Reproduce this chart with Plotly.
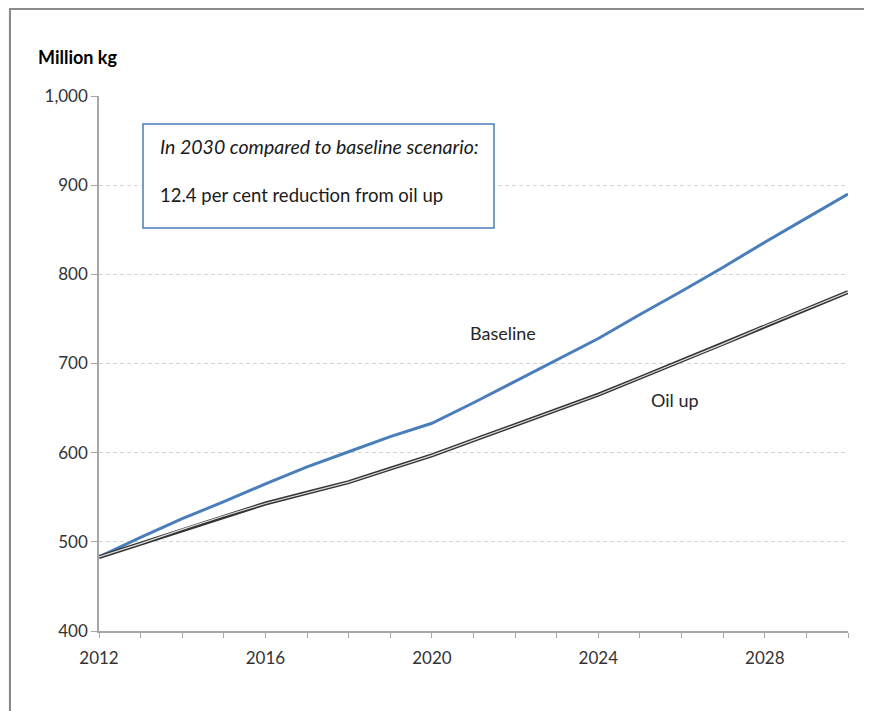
import plotly.graph_objects as go

years = list(range(2012, 2031))
baseline = [483, 505, 526, 545, 565, 584, 601, 618, 633, 656, 680, 704, 728,
            755, 781, 808, 836, 863, 890]
oil_up = [483, 498, 514, 529, 543, 555, 567, 582, 597, 614, 631, 648, 665,
          684, 703, 722, 742, 761, 780]

y_ticks = [400, 500, 600, 700, 800, 900, 1000]
y_tick_labels = ["400", "500", "600", "700", "800", "900", "1,000"]
x_ticks = [2012, 2016, 2020, 2024, 2028]

FONT = "Lato"
OFF = 8  # page body offset
W, H = 864, 703
L, T = 99 - OFF, 96 - OFF
R = W - (848 - OFF)
B = H - (631 - OFF)
PW, PH = W - L - R, H - T - B


def px(x):
    return (x - OFF - L) / PW


def py(y):
    return (H - B - (y - OFF)) / PH


fig = go.Figure()

fig.add_trace(go.Scatter(x=years, y=baseline, mode="lines",
                         line=dict(color="#4a7ebb", width=3),
                         name="Baseline", hoverinfo="skip"))
fig.add_trace(go.Scatter(x=years, y=oil_up, mode="lines",
                         line=dict(color="#333333", width=4),
                         name="Oil up", hoverinfo="skip"))
fig.add_trace(go.Scatter(x=years, y=oil_up, mode="lines",
                         line=dict(color="#dcdcdc", width=1.2),
                         name="Oil up inner", hoverinfo="skip"))

shapes = [
    dict(type="rect", xref="paper", yref="paper",
         x0=px(10), x1=px(900), y0=py(740), y1=py(9),
         line=dict(color="#8a8a8a", width=2), fillcolor="white", layer="below"),
    dict(type="rect", xref="paper", yref="paper",
         x0=px(143), x1=px(494), y0=py(228), y1=py(124),
         line=dict(color="#4a7ebb", width=1.5), fillcolor="white", layer="above"),
]

annotations = [
    dict(text="<b>Million kg</b>", xref="paper", yref="paper",
         x=px(36), y=py(57), xanchor="left", yanchor="middle", showarrow=False,
         font=dict(family=FONT, size=18, color="#000000")),
    dict(text="<i>In 2030 compared to baseline scenario:</i>", xref="paper", yref="paper",
         x=px(158), y=py(146), xanchor="left", yanchor="middle", showarrow=False,
         font=dict(family=FONT, size=19.5, color="#1a1a1a")),
    dict(text="12.4 per cent reduction from oil up", xref="paper", yref="paper",
         x=px(158), y=py(195), xanchor="left", yanchor="middle", showarrow=False,
         font=dict(family=FONT, size=18.5, color="#1a1a1a")),
    dict(text="Baseline", xref="paper", yref="paper",
         x=px(503), y=py(333), xanchor="center", yanchor="middle", showarrow=False,
         font=dict(family=FONT, size=18, color="#262626")),
    dict(text="Oil up", xref="paper", yref="paper",
         x=px(675), y=py(400), xanchor="center", yanchor="middle", showarrow=False,
         font=dict(family=FONT, size=18, color="#262626")),
]

fig.update_layout(
    width=W, height=H,
    margin=dict(l=L, r=R, t=T, b=B),
    paper_bgcolor="#f6f6f6", plot_bgcolor="rgba(0,0,0,0)",
    showlegend=False,
    shapes=shapes, annotations=annotations,
    font=dict(family=FONT, size=17, color="#333333"),
)

fig.update_xaxes(
    range=[2012, 2030], tickmode="array", tickvals=x_ticks,
    showgrid=False, zeroline=False,
    showline=True, linecolor="#a6a6a6", linewidth=1.5,
    ticks="outside", ticklen=5, tickcolor="#a6a6a6", tickwidth=1,
    minor=dict(dtick=1, tick0=2012, ticks="outside", ticklen=5,
               tickcolor="#a6a6a6", showgrid=False),
    ticklabelstandoff=6,
    tickfont=dict(family=FONT, size=17, color="#333333"),
)
fig.update_yaxes(
    range=[400, 1000], tickmode="array", tickvals=y_ticks, ticktext=y_tick_labels,
    showgrid=True, gridcolor="#d6d6d6", griddash="4px,3px", gridwidth=1,
    zeroline=False,
    showline=True, linecolor="#a6a6a6", linewidth=1.5,
    ticks="outside", ticklen=6, tickcolor="#a6a6a6",
    tickfont=dict(family=FONT, size=17, color="#333333"),
)

fig.write_html("out.html")
